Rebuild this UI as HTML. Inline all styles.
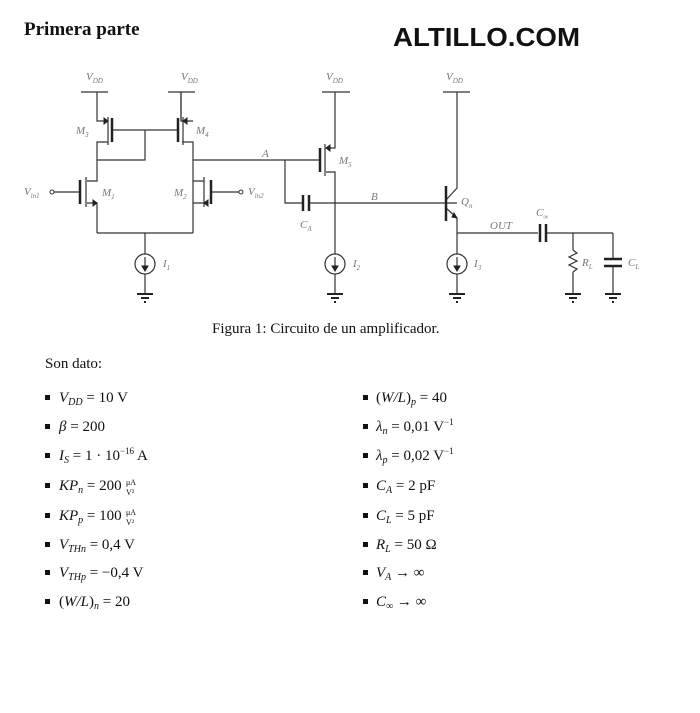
<!DOCTYPE html>
<html><head><meta charset="utf-8"><style>
html,body{margin:0;padding:0;background:#fff;}
svg{display:block}
.t{font-family:"Liberation Serif",serif;font-size:15px;fill:#111}
.i{font-style:italic}
.lb{font-family:"Liberation Serif",serif;font-style:italic;font-size:11px;fill:#777}
.sub{font-size:7px}
</style></head><body>
<svg width="700" height="713" viewBox="0 0 700 713" xmlns="http://www.w3.org/2000/svg">
<text x="24" y="35" font-family="Liberation Serif,serif" font-weight="bold" font-size="19" fill="#111">Primera parte</text>
<text x="393" y="46" font-family="Liberation Sans,sans-serif" font-weight="bold" font-size="26" fill="#111" textLength="187" lengthAdjust="spacingAndGlyphs">ALTILLO.COM</text>

<g stroke="#333" stroke-width="1.2" fill="none">
<path d="M81 92H108 M168 92H195 M322 92H350 M443 92H470"/>
<path d="M97 92V121H105 M108 117V145 M112 118V142 M97 160V142H108"/>
<path d="M112 130H177 M145 130V160H97"/>
<path d="M181 92V121H186 M183 117V145 M178 118V142 M182 142H193V233"/>
<path d="M182 121H193 M181 92V121"/>
<path d="M97 160V181H87 M86 177V207 M80 180V204 M54 192H80 M87 203H97V233"/>
<path d="M193 181H204 M204 177V207 M211 180V204 M211 192H239 M204 203H193"/>
<path d="M97 233H193 M145 233V254 M145 274V293"/>
<path d="M193 160H319 M285 160V203H302 M309 203H457"/>
<path d="M320 148V172 M325 144V176 M326 148H335V92 M326 172H335V254 M335 274V293"/>
<path d="M446 186V221 M446 200L457 188V92 M446 208L457 218V233 M457 233V254 M457 274V293"/>
<path d="M457 233H538 M546 233H613 M573 233V250 M573 272V293 M613 233V259 M613 266V293"/>
<path d="M573 250L577 253L569 257L577 261L569 265L577 269L573 272"/>
<circle cx="145" cy="264" r="10"/>
<circle cx="335" cy="264" r="10"/>
<circle cx="457" cy="264" r="10"/>
<path d="M145 257V270 M335 257V270 M457 257V270"/>
</g>
<g fill="#222" stroke="#222">
<path d="M108 121l-4 -3v6z"/>
<path d="M183 121l4 -3v6z"/>
<path d="M326 148l4 -3v6z"/>
<path d="M97 203l-4 -3v6z"/>
<path d="M204 203l4 -3v6z"/>
<path d="M457 218l-5 -1l2 -4z"/>
<path d="M145 271l-3 -5h6z M335 271l-3 -5h6z M457 271l-3 -5h6z"/>
</g>
<g stroke="#222" stroke-width="2.5">
<path d="M112 118V142 M178 118V142 M80 180V204 M211 180V204 M320 148V172 M446 186V221"/>
<path d="M303 195V211 M309 195V211 M540 224V242 M546 224V242 M604 259H622 M604 266H622"/>
</g>
<g fill="#fff" stroke="#333"><circle cx="52" cy="192" r="2"/><circle cx="241" cy="192" r="2"/></g>
<g stroke="#222" stroke-width="2">
<path d="M137 294H153 M141 298H149 M144 302H146"/>
<path d="M327 294H343 M331 298H339 M334 302H336"/>
<path d="M449 294H465 M453 298H461 M456 302H458"/>
<path d="M565 294H581 M569 298H577 M572 302H574"/>
<path d="M605 294H621 M609 298H617 M612 302H614"/>
</g>
<g class="lb">
<text x="86" y="80">V<tspan class="sub" dy="3">DD</tspan></text>
<text x="181" y="80">V<tspan class="sub" dy="3">DD</tspan></text>
<text x="326" y="80">V<tspan class="sub" dy="3">DD</tspan></text>
<text x="446" y="80">V<tspan class="sub" dy="3">DD</tspan></text>
<text x="76" y="134">M<tspan class="sub" dy="3">3</tspan></text>
<text x="196" y="134">M<tspan class="sub" dy="3">4</tspan></text>
<text x="102" y="196">M<tspan class="sub" dy="3">1</tspan></text>
<text x="174" y="196">M<tspan class="sub" dy="3">2</tspan></text>
<text x="24" y="195">V<tspan class="sub" dy="3">in1</tspan></text>
<text x="248" y="195">V<tspan class="sub" dy="3">in2</tspan></text>
<text x="339" y="164">M<tspan class="sub" dy="3">5</tspan></text>
<text x="262" y="157">A</text>
<text x="371" y="200">B</text>
<text x="300" y="228">C<tspan class="sub" dy="3">A</tspan></text>
<text x="461" y="205">Q<tspan class="sub" dy="3">n</tspan></text>
<text x="490" y="229">OUT</text>
<text x="536" y="216">C<tspan class="sub" dy="3">∞</tspan></text>
<text x="582" y="266">R<tspan class="sub" dy="3">L</tspan></text>
<text x="628" y="266">C<tspan class="sub" dy="3">L</tspan></text>
<text x="163" y="267">I<tspan class="sub" dy="3">1</tspan></text>
<text x="353" y="267">I<tspan class="sub" dy="3">2</tspan></text>
<text x="474" y="267">I<tspan class="sub" dy="3">3</tspan></text>
</g>
<text x="212" y="333" class="t" font-size="13.5">Figura 1:  Circuito de un amplificador.</text>
<text x="45" y="368" class="t" font-size="13.5">Son dato:</text>
<g fill="#111">
<rect x="45" y="395" width="5" height="5"/><rect x="45" y="424" width="5" height="5"/><rect x="45" y="453" width="5" height="5"/><rect x="45" y="483" width="5" height="5"/><rect x="45" y="513" width="5" height="5"/><rect x="45" y="542" width="5" height="5"/><rect x="45" y="570" width="5" height="5"/><rect x="45" y="599" width="5" height="5"/>
<rect x="363" y="395" width="5" height="5"/><rect x="363" y="424" width="5" height="5"/><rect x="363" y="453" width="5" height="5"/><rect x="363" y="483" width="5" height="5"/><rect x="363" y="513" width="5" height="5"/><rect x="363" y="542" width="5" height="5"/><rect x="363" y="570" width="5" height="5"/><rect x="363" y="599" width="5" height="5"/>
</g>
<g class="t">
<text x="59" y="402"><tspan class="i">V</tspan><tspan class="i" font-size="10" dy="3">DD</tspan><tspan dy="-3"> = 10 V</tspan></text>
<text x="59" y="431"><tspan class="i">β</tspan> = 200</text>
<text x="59" y="460"><tspan class="i">I</tspan><tspan class="i" font-size="10" dy="3">S</tspan><tspan dy="-3"> = 1 · 10</tspan><tspan font-size="9" dy="-6">−16</tspan><tspan dy="6"> A</tspan></text>
<text x="59" y="490"><tspan class="i">KP</tspan><tspan class="i" font-size="10" dy="3">n</tspan><tspan dy="-3"> = 200</tspan></text>
<text x="126" y="485" font-size="8">μA</text>
<text x="126" y="495" font-size="8">V²</text>
<text x="59" y="520"><tspan class="i">KP</tspan><tspan class="i" font-size="10" dy="3">p</tspan><tspan dy="-3"> = 100</tspan></text>
<text x="126" y="515" font-size="8">μA</text>
<text x="126" y="525" font-size="8">V²</text>
<text x="59" y="549"><tspan class="i">V</tspan><tspan class="i" font-size="10" dy="3">THn</tspan><tspan dy="-3"> = 0,4 V</tspan></text>
<text x="59" y="577"><tspan class="i">V</tspan><tspan class="i" font-size="10" dy="3">THp</tspan><tspan dy="-3"> = −0,4 V</tspan></text>
<text x="59" y="606">(<tspan class="i">W/L</tspan>)<tspan class="i" font-size="10" dy="3">n</tspan><tspan dy="-3"> = 20</tspan></text>
<text x="376" y="402">(<tspan class="i">W/L</tspan>)<tspan class="i" font-size="10" dy="3">p</tspan><tspan dy="-3"> = 40</tspan></text>
<text x="376" y="431"><tspan class="i">λ</tspan><tspan class="i" font-size="10" dy="3">n</tspan><tspan dy="-3"> = 0,01 V</tspan><tspan font-size="9" dy="-6">−1</tspan></text>
<text x="376" y="460"><tspan class="i">λ</tspan><tspan class="i" font-size="10" dy="3">p</tspan><tspan dy="-3"> = 0,02 V</tspan><tspan font-size="9" dy="-6">−1</tspan></text>
<text x="376" y="490"><tspan class="i">C</tspan><tspan class="i" font-size="10" dy="3">A</tspan><tspan dy="-3"> = 2 pF</tspan></text>
<text x="376" y="520"><tspan class="i">C</tspan><tspan class="i" font-size="10" dy="3">L</tspan><tspan dy="-3"> = 5 pF</tspan></text>
<text x="376" y="549"><tspan class="i">R</tspan><tspan class="i" font-size="10" dy="3">L</tspan><tspan dy="-3"> = 50 Ω</tspan></text>
<text x="376" y="577"><tspan class="i">V</tspan><tspan class="i" font-size="10" dy="3">A</tspan><tspan dy="-3"> → ∞</tspan></text>
<text x="376" y="606"><tspan class="i">C</tspan><tspan font-size="10" dy="3">∞</tspan><tspan dy="-3"> → ∞</tspan></text>
</g>
</svg>
</body></html>
